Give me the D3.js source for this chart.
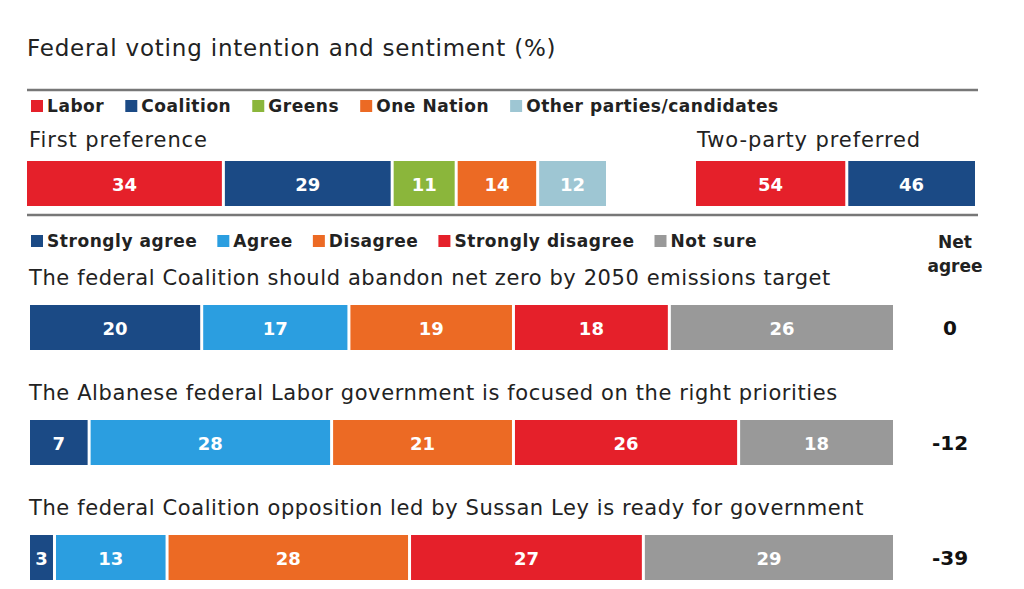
<!DOCTYPE html>
<html>
<head>
<meta charset="utf-8">
<script src="https://cdn.jsdelivr.net/npm/d3@7"></script>
<style>
  body { margin: 0; background: #fff; }
  svg { font-family: "DejaVu Sans", sans-serif; }
</style>
</head>
<body>
<svg id="chart" width="1024" height="589"></svg>
<script>
// 数据
var parties = ['Labor', 'Coalition', 'Greens', 'One Nation', 'Other parties/candidates'];
var partyColors = ['#e5202a', '#1b4a85', '#8bb63b', '#ec6a24', '#9ec6d3'];
var firstPref = [34, 29, 11, 14, 12];
var twoParty = [54, 46];

var answers = ['Strongly agree', 'Agree', 'Disagree', 'Strongly disagree', 'Not sure'];
var answerColors = ['#1b4a85', '#2b9ee0', '#ec6a24', '#e5202a', '#999999'];
var questions = [
    'The federal Coalition should abandon net zero by 2050 emissions target',
    'The Albanese federal Labor government is focused on the right priorities',
    'The federal Coalition opposition led by Sussan Ley is ready for government'
];
var sentiment = [
    [20, 17, 19, 18, 26],
    [7, 28, 21, 26, 18],
    [3, 13, 28, 27, 29]
];
var netAgree = ['0', '-12', '-39'];

var svg = d3.select('#chart');

// 标题
svg.append('text')
    .attr('x', 27).attr('y', 56)
    .attr('font-size', 23).attr('letter-spacing', 0.8).attr('fill', '#222')
    .text('Federal voting intention and sentiment (%)');

// 分隔线
function rule(y) {
    svg.append('line')
        .attr('x1', 27).attr('x2', 978)
        .attr('y1', y).attr('y2', y)
        .attr('stroke', '#777').attr('stroke-width', 2.5);
}
rule(90);
rule(215);

/**
 * 图例
 */
function drawLegend(names, colors, x0, y, gap) {
    var g = svg.append('g');
    var x = x0;
    names.forEach(function(name, i) {
        g.append('rect')
            .attr('x', x).attr('y', y - 6)
            .attr('width', 12).attr('height', 12)
            .attr('fill', colors[i]);
        var t = g.append('text')
            .attr('x', x + 16).attr('y', y + 6)
            .attr('font-size', 17).attr('font-weight', 'bold')
            .attr('letter-spacing', 0.55).attr('fill', '#222')
            .text(name);
        x += 16 + t.node().getComputedTextLength() + gap;
    });
}
drawLegend(parties, partyColors, 31, 106, 21);
drawLegend(answers, answerColors, 31, 241, 20);

/**
 * 堆叠条
 */
function drawBar(values, colors, x0, x1, y, h) {
    var total = d3.sum(values);
    var xs = d3.scaleLinear().domain([0, total]).range([x0, x1]);
    var cum = d3.cumsum(values);
    var segs = values.map(function(v, i) {
        return { v: v, start: cum[i] - v, end: cum[i], c: colors[i] };
    });
    var g = svg.append('g');
    g.selectAll('rect')
        .data(segs)
        .enter()
        .append('rect')
        .attr('x', function(d) { return xs(d.start) + 1.5; })
        .attr('y', y)
        .attr('width', function(d) { return xs(d.end) - xs(d.start) - 3; })
        .attr('height', h)
        .attr('fill', function(d) { return d.c; });
    g.selectAll('text')
        .data(segs)
        .enter()
        .append('text')
        .attr('x', function(d) { return (xs(d.start) + xs(d.end)) / 2; })
        .attr('y', y + h / 2 + 7)
        .attr('text-anchor', 'middle')
        .attr('font-size', 18).attr('font-weight', 'bold').attr('fill', '#fff')
        .text(function(d) { return d.v; });
}

// 第一选择
svg.append('text').attr('x', 29).attr('y', 147)
    .attr('font-size', 21).attr('letter-spacing', 0.9).attr('fill', '#222').text('First preference');
drawBar(firstPref, partyColors, 25.5, 607.5, 161, 45);

// 两党选择
svg.append('text').attr('x', 697).attr('y', 147)
    .attr('font-size', 21).attr('letter-spacing', 0.9).attr('fill', '#222').text('Two-party preferred');
drawBar(twoParty, partyColors.slice(0, 2), 694.5, 976.5, 161, 45);

// 净同意
svg.append('text').attr('x', 955).attr('y', 248)
    .attr('text-anchor', 'middle').attr('font-size', 17).attr('font-weight', 'bold')
    .attr('fill', '#222').text('Net');
svg.append('text').attr('x', 955).attr('y', 272)
    .attr('text-anchor', 'middle').attr('font-size', 17).attr('font-weight', 'bold')
    .attr('fill', '#222').text('agree');

questions.forEach(function(q, i) {
    var top = 305 + i * 115;
    svg.append('text').attr('x', 29).attr('y', top - 20)
        .attr('font-size', 21).attr('letter-spacing', 0.6).attr('fill', '#222').text(q);
    drawBar(sentiment[i], answerColors, 28.5, 894.5, top, 45);
    svg.append('text').attr('x', 950).attr('y', top + 30)
        .attr('text-anchor', 'middle').attr('font-size', 20).attr('font-weight', 'bold')
        .attr('fill', '#111').text(netAgree[i]);
});
</script>
</body>
</html>
